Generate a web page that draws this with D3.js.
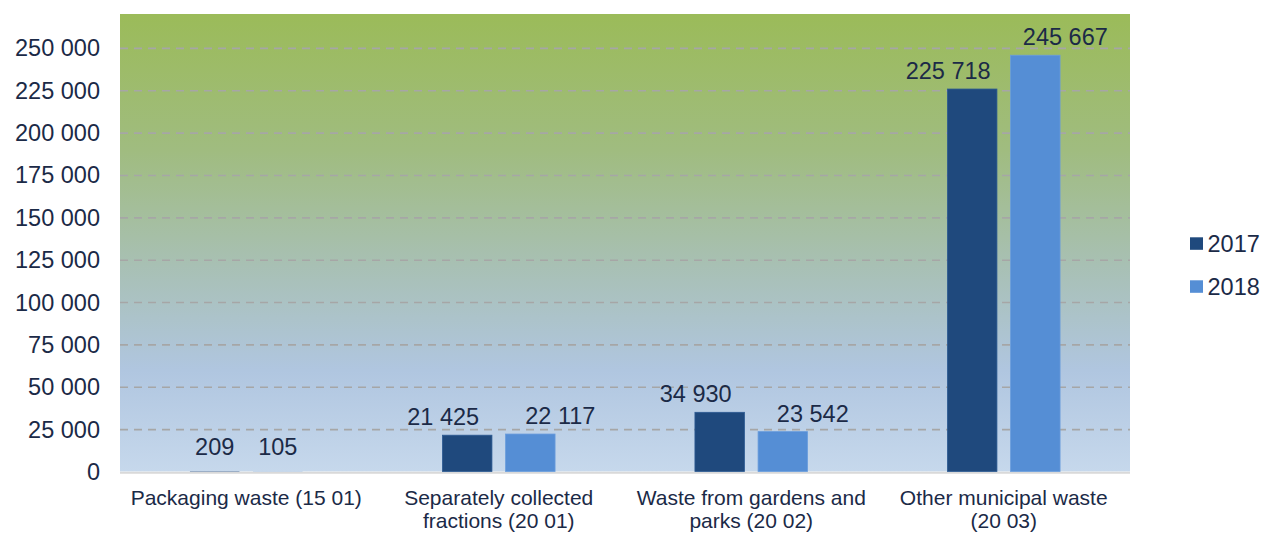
<!DOCTYPE html>
<html>
<head>
<meta charset="utf-8">
<script src="https://cdn.jsdelivr.net/npm/d3@7"></script>
<style>
  html, body { margin: 0; padding: 0; background: #ffffff; }
  svg { display: block; font-family: "Liberation Sans", Arial, sans-serif; }
</style>
</head>
<body>
<svg id="chart" width="1265" height="533"></svg>
<script>
// ---- data ----
const categories = [
  "Packaging waste (15 01)",
  "Separately collected fractions (20 01)",
  "Waste from gardens and parks (20 02)",
  "Other municipal waste (20 03)"
];
const seriesNames = ["2017", "2018"];
const values2017 = [209, 21425, 34930, 225718];
const values2018 = [105, 22117, 23542, 245667];
const yTicks = [0, 25000, 50000, 75000, 100000, 125000, 150000, 175000, 200000, 225000, 250000];
const yMax = 270000;

// ---- layout ----
const plot = { left: 120, top: 14, right: 1130, bottom: 471.5 };
const colors = ["#1F497D", "#558ED5"];
const textColor = "#1b2a47";
const fmt = v => d3.format(",")(v).replace(/,/g, " ");

const svg = d3.select("#chart");

const x = d3.scaleBand().domain(categories).range([plot.left, plot.right]).padding(0);
const y = d3.scaleLinear().domain([0, yMax]).range([plot.bottom, plot.top]);

const barW = x.bandwidth() * 0.196;
const gap = x.bandwidth() * 0.054;

// gradient background
const defs = svg.append("defs");
const grad = defs.append("linearGradient").attr("id", "bg").attr("x1", 0).attr("y1", 0).attr("x2", 0).attr("y2", 1);
[["0%", "#9BBB59"], ["30%", "#A0BC80"], ["55%", "#A8C0B4"], ["78%", "#B0C6E0"], ["100%", "#C6D8EC"]]
  .forEach(([o, c]) => grad.append("stop").attr("offset", o).attr("stop-color", c));

svg.append("rect")
  .attr("x", plot.left).attr("y", plot.top)
  .attr("width", plot.right - plot.left).attr("height", plot.bottom - plot.top)
  .attr("fill", "url(#bg)");

// gridlines
const yAxisGrid = d3.axisLeft(y).tickValues(yTicks.filter(t => t > 0))
  .tickSize(-(plot.right - plot.left)).tickFormat("");
const grid = svg.append("g").attr("transform", `translate(${plot.left},0)`).call(yAxisGrid);
grid.select(".domain").remove();
grid.selectAll(".tick line")
  .attr("stroke", "#a6a6a6").attr("stroke-width", 1.6).attr("stroke-dasharray", "8,6");

// baseline
svg.append("line")
  .attr("x1", plot.left).attr("x2", plot.right)
  .attr("y1", y(0) + 1.2).attr("y2", y(0) + 1.2)
  .attr("stroke", "#d9d9d9").attr("stroke-width", 2);

// y axis labels
const yAxis = d3.axisLeft(y).tickValues(yTicks).tickSize(0).tickPadding(0).tickFormat(fmt);
const ya = svg.append("g").attr("transform", `translate(100,0)`).call(yAxis);
ya.select(".domain").remove();
ya.selectAll(".tick text")
  .attr("font-family", "Liberation Sans, Arial, sans-serif")
  .attr("font-size", 23.5).attr("fill", textColor).attr("dy", "0.34em");

// bars
const allSeries = [values2017, values2018];
const barData = [];
categories.forEach((c, i) => {
  allSeries.forEach((vals, s) => {
    barData.push({ cat: c, s, name: seriesNames[s], v: vals[i] });
  });
});
const groupOffset = (x.bandwidth() - (2 * barW + gap)) / 2;

svg.append("g").selectAll("rect").data(barData).join("rect")
  .attr("x", d => x(d.cat) + groupOffset + d.s * (barW + gap))
  .attr("y", d => y(d.v))
  .attr("width", barW)
  .attr("height", d => y(0) - y(d.v))
  .attr("fill", d => colors[d.s])
  .attr("stroke", d => (y(0) - y(d.v)) < 3 ? "none" : (d.s === 0 ? "#2c5a92" : "#6a9ddc"))
  .attr("stroke-width", 0.8);

// data labels
svg.append("g").selectAll("text").data(barData).join("text")
  .attr("x", d => {
    const cx = x(d.cat) + groupOffset + d.s * (barW + gap) + barW / 2;
    if (d.v < 1000) return cx;
    return cx + (d.s === 0 ? -24 : 30);
  })
  .attr("y", d => y(d.v) - (d.v < 1000 ? 16 : 10))
  .attr("text-anchor", "middle")
  .attr("font-size", 23.5).attr("fill", textColor)
  .text(d => fmt(d.v));

// category labels with wrapping (codes in parentheses stay together)
const xa = svg.append("g");
categories.forEach(c => {
  const cx = x(c) + x.bandwidth() / 2;
  const t = xa.append("text")
    .attr("x", cx)
    .attr("y", 505)
    .attr("text-anchor", "middle")
    .attr("font-size", 21).attr("fill", textColor);
  const words = c.match(/\([^)]*\)|\S+/g);
  let line = [], lines = [];
  const probe = t.append("tspan");
  words.forEach(w => {
    const test = line.concat([w]).join(" ");
    probe.text(test);
    if (probe.node().getComputedTextLength() > x.bandwidth() - 4 && line.length) {
      lines.push(line.join(" "));
      line = [w];
    } else {
      line.push(w);
    }
  });
  lines.push(line.join(" "));
  probe.remove();
  lines.forEach((l, i) => {
    t.append("tspan").attr("x", cx).attr("dy", i === 0 ? 0 : 23).text(l);
  });
});

// legend
const lg = svg.append("g");
seriesNames.forEach((n, i) => {
  const ly = 243.5 + i * 43;
  lg.append("rect").attr("x", 1190).attr("y", ly - 6.2).attr("width", 13).attr("height", 12.5).attr("fill", colors[i]);
  lg.append("text").attr("x", 1207.5).attr("y", ly + 8.5)
    .attr("font-size", 23.5).attr("fill", textColor).text(n);
});
</script>
</body>
</html>
